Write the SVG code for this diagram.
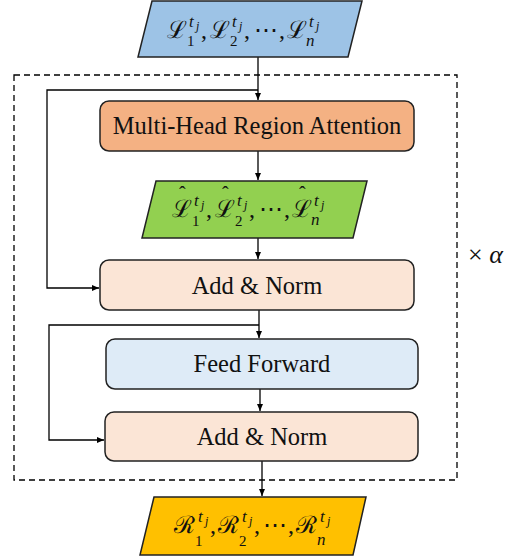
<svg xmlns="http://www.w3.org/2000/svg" width="526" height="559" viewBox="0 0 526 559">
<defs>
<marker id="ah" markerWidth="8" markerHeight="8" refX="7" refY="4" orient="auto" markerUnits="userSpaceOnUse">
<path d="M0,1 L7,4 L0,7 Z" fill="#000"/>
</marker>
<style>
.box{stroke:#222;stroke-width:1.5}
.lbl{font-family:"Liberation Serif",serif;font-size:24.5px;fill:#111;text-anchor:middle}
.math{font-family:"Liberation Serif","DejaVu Serif",serif;font-size:24px;fill:#111}
.m{font-size:24px;font-style:normal}
.sub{font-size:15px;font-style:normal}
.sup{font-style:italic;font-size:17px}
.ss{font-style:italic;font-size:12px}
.hat{font-size:20px;font-style:normal}
.conn{fill:none;stroke:#000;stroke-width:1.3}
</style>
</defs>
<rect x="14" y="75" width="443" height="405" fill="none" stroke="#000" stroke-width="1.3" stroke-dasharray="6,4"/>
<g id="connectors">
<path class="conn" d="M258,57 V100" marker-end="url(#ah)"/>
<path class="conn" d="M258,90 H47 V288 H99" marker-end="url(#ah)"/>
<path class="conn" d="M258,151 V180" marker-end="url(#ah)"/>
<path class="conn" d="M258,238 V259" marker-end="url(#ah)"/>
<path class="conn" d="M259,310 V338" marker-end="url(#ah)"/>
<path class="conn" d="M259,325 H49 V440 H104" marker-end="url(#ah)"/>
<path class="conn" d="M260,389 V411" marker-end="url(#ah)"/>
<path class="conn" d="M262,461 V496" marker-end="url(#ah)"/>
</g>
<g id="input">
<polygon class="box" points="152,1 362,1 348,57 138,57" fill="#9DC3E6"/>
<text class="math"><tspan class="m" x="167" y="38">ℒ</tspan><tspan class="sup" x="189" y="27">t</tspan><tspan class="ss" x="196" y="30">j</tspan><tspan class="sub" x="187" y="46">1</tspan><tspan class="m" x="201" y="38">,</tspan><tspan class="m" x="210" y="38">ℒ</tspan><tspan class="sup" x="232" y="27">t</tspan><tspan class="ss" x="239" y="30">j</tspan><tspan class="sub" x="230" y="46">2</tspan><tspan class="m" x="244" y="38">,</tspan><tspan class="m" x="254" y="38">⋯</tspan><tspan class="m" x="279" y="38">,</tspan><tspan class="m" x="287" y="38">ℒ</tspan><tspan class="sup" x="309" y="27">t</tspan><tspan class="ss" x="316" y="30">j</tspan><tspan class="sup" x="306" y="46">n</tspan></text>
</g>
<g id="mhra">
<rect class="box" x="100" y="101" width="314" height="50" rx="9" fill="#F4B183"/>
<text class="lbl" x="257" y="134">Multi-Head Region Attention</text>
</g>
<g id="attn-out">
<polygon class="box" points="156,181 367,181 353,238 142,238" fill="#92D050"/>
<text class="math"><tspan class="hat" x="179" y="201">ˆ</tspan><tspan class="m" x="172" y="217">ℒ</tspan><tspan class="sup" x="194" y="206">t</tspan><tspan class="ss" x="201" y="209">j</tspan><tspan class="sub" x="192" y="226">1</tspan><tspan class="m" x="206" y="217">,</tspan><tspan class="hat" x="222" y="201">ˆ</tspan><tspan class="m" x="215" y="217">ℒ</tspan><tspan class="sup" x="237" y="206">t</tspan><tspan class="ss" x="244" y="209">j</tspan><tspan class="sub" x="235" y="226">2</tspan><tspan class="m" x="249" y="217">,</tspan><tspan class="m" x="259" y="217">⋯</tspan><tspan class="m" x="284" y="217">,</tspan><tspan class="hat" x="299" y="201">ˆ</tspan><tspan class="m" x="292" y="217">ℒ</tspan><tspan class="sup" x="314" y="206">t</tspan><tspan class="ss" x="321" y="209">j</tspan><tspan class="sup" x="311" y="225">n</tspan></text>
</g>
<g id="addnorm1">
<rect class="box" x="100" y="260" width="314" height="50" rx="9" fill="#FBE5D6"/>
<text class="lbl" x="257" y="294">Add &amp; Norm</text>
</g>
<g id="ffn">
<rect class="box" x="106" y="339" width="312" height="50" rx="9" fill="#DEEBF7"/>
<text class="lbl" x="262" y="372">Feed Forward</text>
</g>
<g id="addnorm2">
<rect class="box" x="105" y="412" width="313" height="49" rx="9" fill="#FBE5D6"/>
<text class="lbl" x="262" y="445">Add &amp; Norm</text>
</g>
<g id="output">
<polygon class="box" points="154,497 366,497 353,555 140,555" fill="#FFC000"/>
<text class="math"><tspan class="m" x="174" y="533">ℛ</tspan><tspan class="sup" x="198" y="522">t</tspan><tspan class="ss" x="205" y="525">j</tspan><tspan class="sub" x="195" y="546">1</tspan><tspan class="m" x="210" y="533">,</tspan><tspan class="m" x="218" y="533">ℛ</tspan><tspan class="sup" x="242" y="522">t</tspan><tspan class="ss" x="249" y="525">j</tspan><tspan class="sub" x="239" y="546">2</tspan><tspan class="m" x="254" y="533">,</tspan><tspan class="m" x="263" y="533">⋯</tspan><tspan class="m" x="288" y="533">,</tspan><tspan class="m" x="296" y="533">ℛ</tspan><tspan class="sup" x="320" y="522">t</tspan><tspan class="ss" x="327" y="525">j</tspan><tspan class="sup" x="317" y="545">n</tspan></text>
</g>
<g id="repeat">
<text x="468" y="263" font-family="Liberation Serif, serif" font-size="26" fill="#111">× <tspan font-style="italic">α</tspan></text>
</g>
</svg>
